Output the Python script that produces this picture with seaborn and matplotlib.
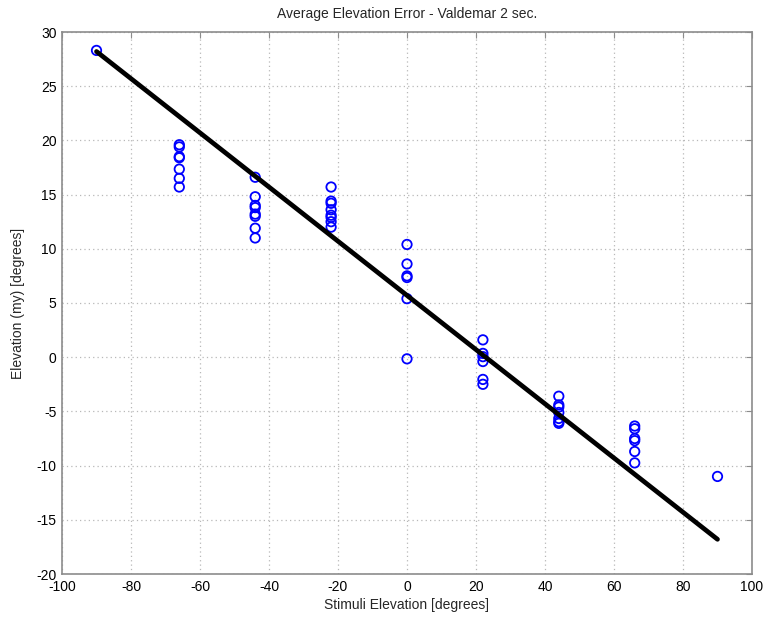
import matplotlib
matplotlib.use("Agg")
import matplotlib.pyplot as plt
import numpy as np
import pandas as pd
import seaborn as sns

# Stimulus elevations (degrees) and the perceived elevations recorded for each
stim_m90 = [28.3]
stim_m66 = [19.6, 19.4, 18.5, 18.4, 17.35, 16.5, 15.7]
stim_m44 = [16.6, 14.8, 14.0, 13.8, 13.2, 13.0, 11.9, 11.0]
stim_m22 = [15.7, 14.4, 14.2, 13.6, 13.1, 12.9, 12.5, 12.0]
stim_0 = [10.4, 8.6, 7.5, 7.35, 5.4, -0.15]
stim_22 = [1.6, 0.35, 0.05, -0.4, -2.05, -2.5]
stim_44 = [-3.6, -4.4, -4.6, -5.1, -5.65, -5.95, -6.1]
stim_66 = [-6.35, -6.6, -7.5, -7.7, -8.7, -9.75]
stim_90 = [-11.0]

stimuli = [-90, -66, -44, -22, 0, 22, 44, 66, 90]
responses = [stim_m90, stim_m66, stim_m44, stim_m22, stim_0,
             stim_22, stim_44, stim_66, stim_90]

# Linear fit through the responses
fit_x = [-90, 90]
fit_y = [28.2, -16.8]

x_ticks = [-100, -80, -60, -40, -20, 0, 20, 40, 60, 80, 100]
y_ticks = [-20, -15, -10, -5, 0, 5, 10, 15, 20, 25, 30]

df = pd.DataFrame({
    "stim": [s for s, r in zip(stimuli, responses) for _ in r],
    "resp": [v for r in responses for v in r],
})
fit_df = pd.DataFrame({"stim": fit_x, "resp": fit_y})

sns.set_theme(style="white")
plt.rcParams["font.family"] = ["Liberation Sans", "DejaVu Sans"]
plt.rcParams["font.size"] = 10

fig = plt.figure(figsize=(7.67, 6.22), dpi=100)
ax = fig.add_axes([62 / 767, 1 - 574 / 622, 690 / 767, 542 / 622])

sns.scatterplot(data=df, x="stim", y="resp", ax=ax, marker="o", s=46,
                facecolor="none", edgecolor="#0000ff", linewidth=1.3,
                zorder=3)
sns.lineplot(data=fit_df, x="stim", y="resp", ax=ax, color="black",
             linewidth=3.4, zorder=4)

ax.set_xlim(-100, 100)
ax.set_ylim(-20, 30)
ax.set_xticks(x_ticks)
ax.set_yticks(y_ticks)
ax.set_xticklabels([str(t) for t in x_ticks])
ax.set_yticklabels([str(t) for t in y_ticks])

ax.grid(True, linestyle=(0, (1, 2.5)), color="#b8b8b8", linewidth=0.9)
ax.set_axisbelow(True)
for sp in ax.spines.values():
    sp.set_color("#8c8c8c")
    sp.set_linewidth(1.2)
ax.tick_params(direction="in", length=4, width=0.8, color="#8c8c8c",
               top=True, right=True, labelsize=10, labelcolor="black")
ax.tick_params(axis="x", pad=4)
ax.tick_params(axis="y", pad=4)

ax.set_title("Average Elevation Error - Valdemar 2 sec.", fontsize=10, pad=10)
ax.set_xlabel("Stimuli Elevation [degrees]", fontsize=10, labelpad=3)
ax.set_ylabel("Elevation (my) [degrees]", fontsize=10, labelpad=8)

fig.savefig("out.png", dpi=100, facecolor="white")
